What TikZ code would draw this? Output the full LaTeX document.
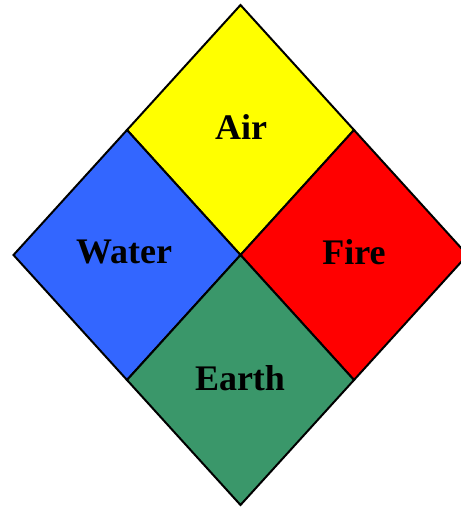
\documentclass[tikz,border=0pt]{standalone}
\usepackage{fontspec}
\setmainfont{Liberation Serif}
\definecolor{airc}{HTML}{FFFF00}
\definecolor{waterc}{HTML}{3366FF}
\definecolor{firec}{HTML}{FF0000}
\definecolor{earthc}{HTML}{3A976A}
\begin{document}
\begin{tikzpicture}[x=1pt,y=-1pt,
  quad/.style={draw=black,line width=2pt,line join=miter},
  lab/.style={font=\fontsize{36}{40}\selectfont\bfseries,inner sep=0pt}]
\useasboundingbox (0,0) rectangle (461,507);
\clip (0,0) rectangle (461,507);
\coordinate (T) at (240.5,5);
\coordinate (L) at (13.5,255);
\coordinate (R) at (467.5,255);
\coordinate (B) at (240.5,505);
\coordinate (C) at (240.5,255);
\coordinate (TL) at (127,130);
\coordinate (TR) at (354,130);
\coordinate (BL) at (127,380);
\coordinate (BR) at (354,380);
\filldraw[quad,fill=airc] (T) -- (TR) -- (C) -- (TL) -- cycle;
\filldraw[quad,fill=waterc] (TL) -- (C) -- (BL) -- (L) -- cycle;
\filldraw[quad,fill=firec] (TR) -- (R) -- (BR) -- (C) -- cycle;
\filldraw[quad,fill=earthc] (C) -- (BR) -- (B) -- (BL) -- cycle;
\node[lab] (air) at (241,127) {Air};
\node[lab] (water) at (124,252) {Water};
\node[lab] (fire) at (354,252) {Fire};
\node[lab] (earth) at (240,378) {Earth};
\end{tikzpicture}
\end{document}
